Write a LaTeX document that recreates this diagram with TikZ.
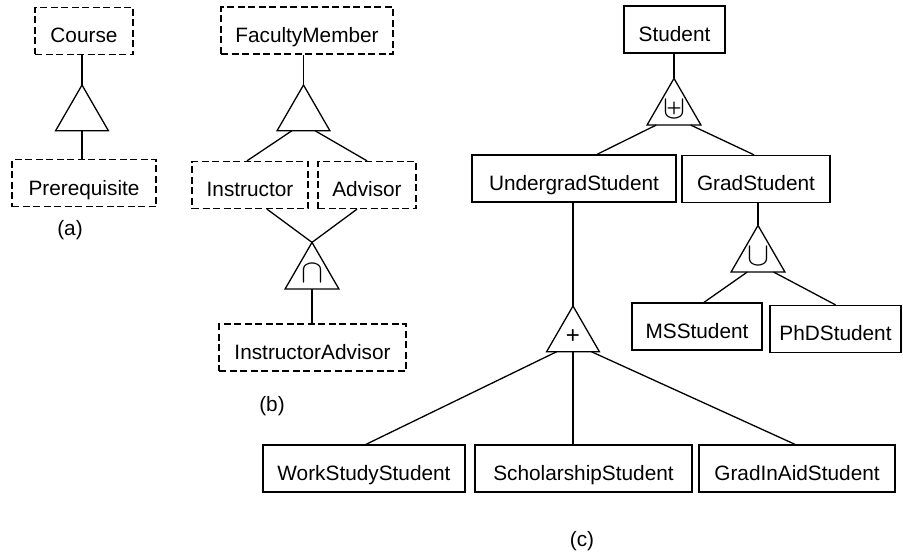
\documentclass[tikz,border=0pt]{standalone}
\usepackage{fix-cm}
\usepackage{fontspec}
\setmainfont{Liberation Sans}
\usetikzlibrary{shapes.geometric,calc}

\begin{document}
\begin{tikzpicture}[x=1pt,y=-1pt,line width=1.3pt]

%styles
\tikzset{
    ent/.style={draw, minimum height=47pt, inner sep=0pt, text height=23.5pt, text depth=0pt, font=\fontsize{20.8}{25}\selectfont},
    weak/.style={ent, dash pattern=on 7pt off 3.5pt},
    isa/.style={draw, regular polygon, regular polygon sides=3, minimum size=61pt, inner sep=0pt, outer sep=0pt, font=\fontsize{33}{33}\selectfont},
    lbl/.style={font=\fontsize{20.8}{25}\selectfont}
}

\useasboundingbox (0,0) rectangle (903,557);

%(a)
\node[weak, minimum width=98pt] (course) at (84,30.7) {Course};
\node[isa] (isaA) at (82,115.5) {};
\node[weak, minimum width=144pt] (prereq) at (84,183.3) {Prerequisite};
\draw (isaA.corner 1) -- (isaA.corner 1 |- course.south);
\draw (isaA.side 2) -- (isaA.side 2 |- prereq.north);
\node[lbl] (la) at (70,230) {(a)};

%(b)
\node[weak, minimum width=172pt] (faculty) at (307,30.5) {FacultyMember};
\node[isa] (isaB) at (303.5,115.5) {};
\node[weak, minimum width=116pt] (instr) at (250,185) {Instructor};
\node[weak, minimum width=98pt] (advisor) at (367,185) {Advisor};
\node[isa] (isaC) at (312,273.5) {$\cap$};
\node[weak, minimum width=187pt] (instradv) at (312.5,347.5) {InstructorAdvisor};
\draw (isaB.corner 1) -- (isaB.corner 1 |- faculty.south);
\draw ($(isaB.corner 2)!0.28!(isaB.corner 3)$) -- ([xshift=-3pt]instr.north);
\draw ($(isaB.corner 2)!0.72!(isaB.corner 3)$) -- (advisor.north);
\draw ([xshift=17pt]instr.south) -- (isaC.corner 1);
\draw ([xshift=-10pt]advisor.south) -- (isaC.corner 1);
\draw (isaC.side 2) -- (isaC.side 2 |- instradv.north);
\node[lbl] (lb) at (272,406) {(b)};

%(c)
\node[ent, minimum width=101pt] (student) at (674.5,29.5) {Student};
\node[isa] (isaD) at (674,109.5) {$\uplus$};
\node[ent, minimum width=204pt] (ugrad) at (574,178.5) {UndergradStudent};
\node[ent, minimum width=148pt] (grad) at (756,179) {GradStudent};
\node[isa] (isaF) at (758,256.5) {$\cup$};
\node[ent, minimum width=130pt] (ms) at (697,326.5) {MSStudent};
\node[ent, minimum width=131pt] (phd) at (835.5,329) {PhDStudent};
\node[isa, font=\fontsize{24}{28}\selectfont] (isaE) at (573,336.5) {+};
\node[ent, minimum width=202pt] (work) at (364,468.5) {WorkStudyStudent};
\node[ent, minimum width=217pt] (schol) at (583.5,468.5) {ScholarshipStudent};
\node[ent, minimum width=196pt] (aid) at (797,468.5) {GradInAidStudent};

\draw (isaD.corner 1) -- (isaD.corner 1 |- student.south);
\draw ($(isaD.corner 2)!0.17!(isaD.corner 3)$) -- ([xshift=23pt]ugrad.north);
\draw ($(isaD.corner 2)!0.81!(isaD.corner 3)$) -- ([xshift=-2pt]grad.north);
\draw (isaF.corner 1) -- (isaF.corner 1 |- grad.south);
\draw ($(isaF.corner 2)!0.3!(isaF.corner 3)$) -- ([xshift=7pt]ms.north);
\draw ($(isaF.corner 2)!0.79!(isaF.corner 3)$) -- (phd.north);
\draw (isaE.corner 1) -- (isaE.corner 1 |- ugrad.south);
\draw ($(isaE.corner 2)!0.19!(isaE.corner 3)$) -- ([xshift=2pt]work.north);
\draw (isaE.side 2) -- (isaE.side 2 |- schol.north);
\draw ($(isaE.corner 2)!0.85!(isaE.corner 3)$) -- ([xshift=-2pt]aid.north);
\node[lbl] (lc) at (582,541) {(c)};

\end{tikzpicture}
\end{document}
